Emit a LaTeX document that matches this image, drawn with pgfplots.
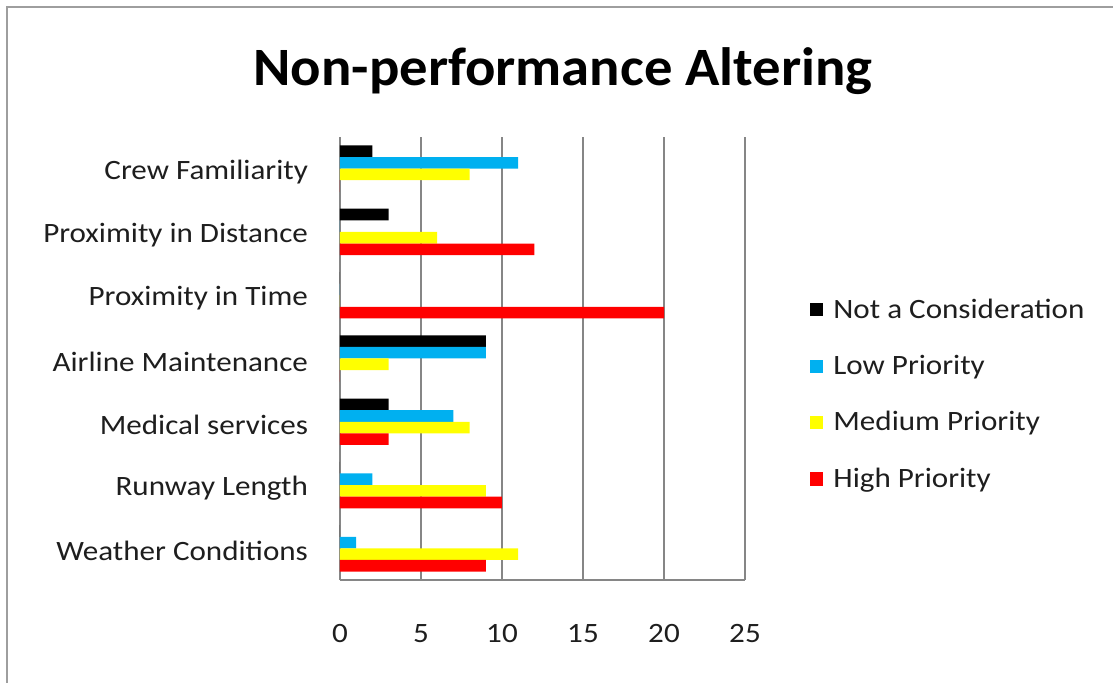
\documentclass[border=0pt]{standalone}
\usepackage{pgfplots}
\pgfplotsset{compat=1.18}
\usepackage{fontspec}
\setmainfont{Carlito}
\newfontfamily\labelfont[FakeStretch=1.11]{Carlito}
\newfontfamily\titlefont[FakeStretch=1.05]{Carlito}
\definecolor{notcons}{HTML}{000000}
\definecolor{lowp}{HTML}{00B0F0}
\definecolor{medp}{HTML}{FFFF00}
\definecolor{highp}{HTML}{FF0000}
\definecolor{gridgray}{HTML}{868686}
\definecolor{txt}{HTML}{1E1E1E}
\begin{document}
\begin{tikzpicture}
% page background
\fill[white] (-170pt,-51.5pt) rectangle (386.5pt,290pt);
% outer chart frame (left and top edges)
\draw[gridgray!80,line width=0.9pt] (-166.5pt,-51.5pt) -- (-166.5pt,286.5pt) -- (386.5pt,286.5pt);
\begin{axis}[
  name=ax,
  scale only axis,
  width=202.5pt, height=221.5pt,
  xbar, bar width=5.8pt,
  xmin=0, xmax=25,
  ymin=-0.5, ymax=6.5,
  xtick={0,5,...,25},
  ytick={0,...,6},
  yticklabels={Weather Conditions,Runway Length,Medical services,Airline Maintenance,Proximity in Time,Proximity in Distance,Crew Familiarity},
  major tick length=0pt,
  axis x line*=bottom, axis y line*=left,
  axis line style={gridgray, line width=0.9pt, -},
  xmajorgrids, major grid style={gridgray, line width=0.9pt},
  /pgf/number format/assume math mode=true,
  tick label style={font=\labelfont\fontsize{14}{16}\selectfont, text=txt},
  x tick label style={yshift=-18.5pt},
  y tick label style={xshift=-12.5pt, yshift=-1.5pt},
  legend style={draw=none, fill=none, at={(1.16,0.645)}, anchor=north west,
    font=\labelfont\fontsize{14}{16}\selectfont, text=txt, row sep=13pt, inner sep=0pt,
    nodes={inner xsep=5pt}},
  legend cell align=left,
  legend image code/.code={\fill[#1,draw=none] (0pt,-3.3pt) rectangle (6.6pt,3.3pt);},
]
\addplot[fill=notcons, draw=none, bar shift=8.7pt] coordinates {
  (0,0) (0,1) (3,2) (9,3) (0,4) (3,5) (2,6)};
\addplot[fill=lowp, draw=none, bar shift=2.9pt] coordinates {
  (1,0) (2,1) (7,2) (9,3) (0,4) (0,5) (11,6)};
\addplot[fill=medp, draw=none, bar shift=-2.9pt] coordinates {
  (11,0) (9,1) (8,2) (3,3) (0,4) (6,5) (8,6)};
\addplot[fill=highp, draw=none, bar shift=-8.7pt] coordinates {
  (9,0) (10,1) (3,2) (0,3) (20,4) (12,5) (0,6)};
\legend{Not a Consideration, Low Priority, Medium Priority, High Priority}
\end{axis}
\node[font=\titlefont\fontsize{27}{30}\selectfont\bfseries, text=black] at (111.5pt,254.5pt) {Non-performance Altering};
\pgfresetboundingbox
\useasboundingbox (-170pt,-51.5pt) rectangle (386.5pt,290pt);
\end{tikzpicture}
\end{document}
